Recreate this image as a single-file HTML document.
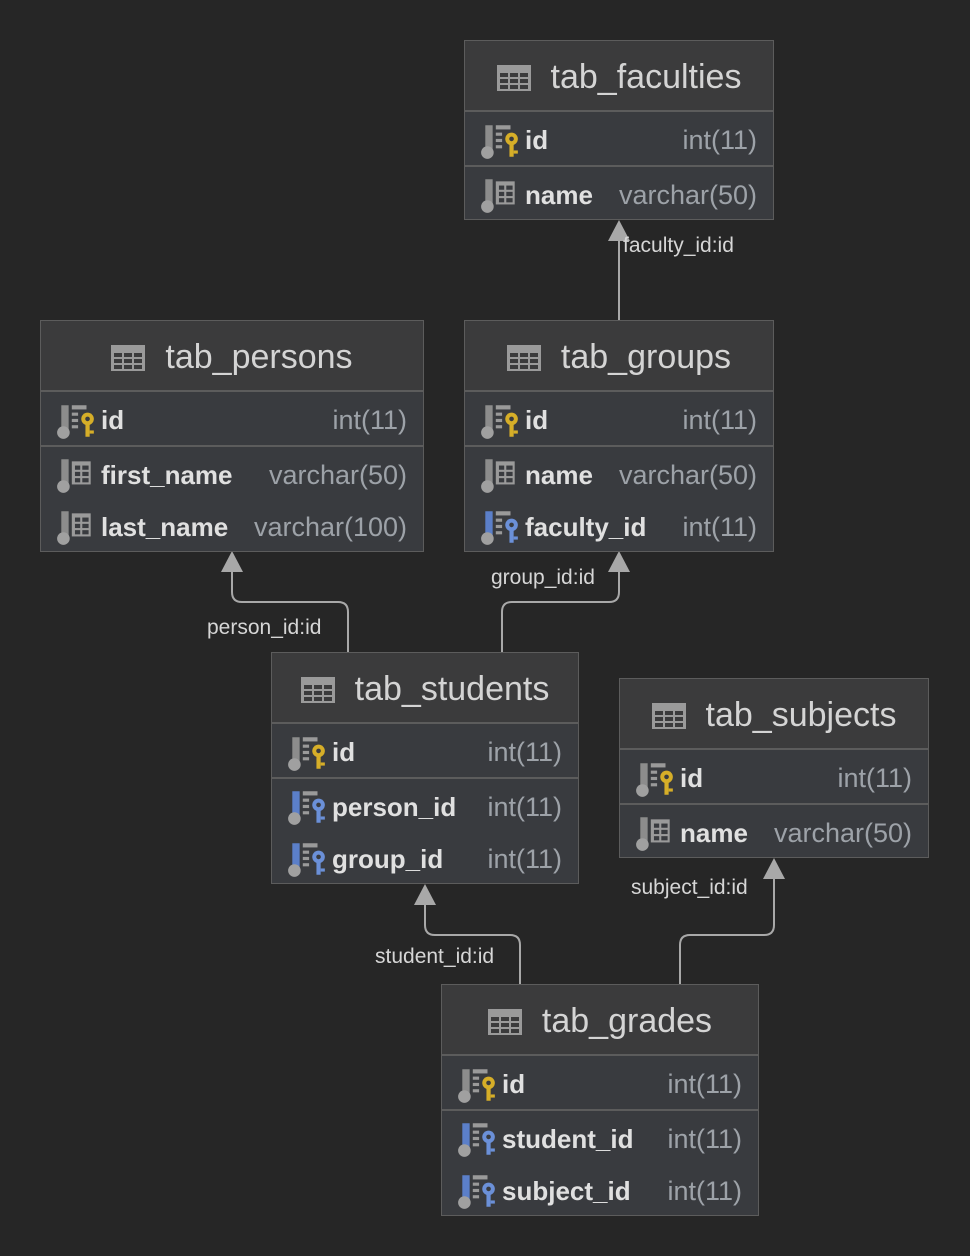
<!DOCTYPE html>
<html><head><meta charset="utf-8"><style>
body{margin:0;width:970px;height:1256px;background:#262626;position:relative;overflow:hidden;font-family:"Liberation Sans","DejaVu Sans",sans-serif}
.t{position:absolute;background:#393b3f;border:1px solid #5c5c5c;box-sizing:border-box}
.h{height:71px;background:#3b3b3c;border-bottom:2px solid #5c5c5c;box-sizing:border-box;display:flex;align-items:center;justify-content:center;color:#d4d4d4;font-size:34px;padding-top:4px}
.h svg{margin-right:20px}
.r{position:relative;height:52px;display:flex;align-items:center;color:#e0e0e0;font-weight:bold;font-size:26px;padding-top:4px;box-sizing:border-box}
.r.pk{height:55px;border-bottom:2px solid #5c5c5c}
.r svg{margin-left:14px;margin-right:4px}
.ty{position:absolute;right:16px;color:#9da2a8;font-weight:normal;font-size:27px}
.l{position:absolute;color:#d6d6d6;font-size:21px;white-space:nowrap}
</style></head><body>
<svg width="970" height="1256" style="position:absolute;left:0;top:0">
<g fill="none" stroke="#a8a8a8" stroke-width="2">
<path d="M619 320V240"/>
<path d="M348 652V612q0-10-10-10H242q-10 0-10-10V571"/>
<path d="M502 652V612q0-10 10-10h97q10 0 10-10V571"/>
<path d="M520 984V945q0-10-10-10H435q-10 0-10-10V904"/>
<path d="M680 984V945q0-10 10-10h74q10 0 10-10V878"/>
</g>
<g fill="#a8a8a8">
<path d="M619 220l-11 21h22z"/><path d="M232 551l-11 21h22z"/><path d="M619 551l-11 21h22z"/>
<path d="M425 884l-11 21h22z"/><path d="M774 858l-11 21h22z"/>
</g>
<defs>
<g id="tb"><rect x="0" y="0" width="34" height="26" fill="#9a9a9a"/><g fill="#3b3b3c"><rect x="3" y="8" width="8" height="4"/><rect x="13" y="8" width="8" height="4"/><rect x="23" y="8" width="8" height="4"/><rect x="3" y="14" width="8" height="4"/><rect x="13" y="14" width="8" height="4"/><rect x="23" y="14" width="8" height="4"/><rect x="3" y="20" width="8" height="4"/><rect x="13" y="20" width="8" height="4"/><rect x="23" y="20" width="8" height="4"/></g></g>
</defs>
</svg>
<div class="l" style="left:623px;top:234px">faculty_id:id</div>
<div class="l" style="left:207px;top:616px">person_id:id</div>
<div class="l" style="left:491px;top:566px">group_id:id</div>
<div class="l" style="left:375px;top:945px">student_id:id</div>
<div class="l" style="left:631px;top:876px">subject_id:id</div>
<div id="c"></div>
<script>
var tIcon='<svg width="34" height="26"><use href="#tb"/></svg>';
function ic(kind){
 var bar=kind=='fk'?'#5b7fc9':'#8c8c8c';
 var s='<svg width="42" height="36" viewBox="0 0 40 34"><rect x="6" y="2" width="7" height="24" fill="'+bar+'"/><circle cx="8" cy="28" r="6" fill="#a0a0a0"/>';
 if(kind=='col'){s+='<rect x="16" y="4" width="18" height="22" fill="#9a9a9a"/><g fill="#393b3f"><rect x="19" y="8" width="5" height="4"/><rect x="26" y="8" width="6" height="4"/><rect x="19" y="14" width="5" height="4"/><rect x="26" y="14" width="6" height="4"/><rect x="19" y="20" width="5" height="4"/><rect x="26" y="20" width="6" height="4"/></g>';}
 else{var k=kind=='pk'?'#d6ae28':'#6b90d8';s+='<rect x="16" y="2" width="14" height="4" fill="#9a9a9a"/><rect x="16" y="9" width="6" height="3" fill="#9a9a9a"/><rect x="16" y="15" width="6" height="3" fill="#9a9a9a"/><rect x="16" y="21" width="6" height="3" fill="#9a9a9a"/><circle cx="31" cy="15" r="6" fill="'+k+'"/><circle cx="31" cy="15" r="2.2" fill="#393b3f"/><rect x="29" y="19" width="4" height="13" fill="'+k+'"/><rect x="33" y="26" width="4" height="3" fill="'+k+'"/>';}
 return s+'</svg>';
}
function T(x,y,w,name,rows){
 var h='<div class="t" style="left:'+x+'px;top:'+y+'px;width:'+w+'px"><div class="h">'+tIcon+name+'</div>';
 rows.forEach(function(r,i){h+='<div class="r'+(i==0?' pk':'')+'">'+ic(r[2])+r[0]+'<span class="ty">'+r[1]+'</span></div>';});
 document.getElementById('c').innerHTML+=h+'</div>';
}
T(464,40,310,'tab_faculties',[['id','int(11)','pk'],['name','varchar(50)','col']]);
T(40,320,384,'tab_persons',[['id','int(11)','pk'],['first_name','varchar(50)','col'],['last_name','varchar(100)','col']]);
T(464,320,310,'tab_groups',[['id','int(11)','pk'],['name','varchar(50)','col'],['faculty_id','int(11)','fk']]);
T(271,652,308,'tab_students',[['id','int(11)','pk'],['person_id','int(11)','fk'],['group_id','int(11)','fk']]);
T(619,678,310,'tab_subjects',[['id','int(11)','pk'],['name','varchar(50)','col']]);
T(441,984,318,'tab_grades',[['id','int(11)','pk'],['student_id','int(11)','fk'],['subject_id','int(11)','fk']]);
</script>
</body></html>
